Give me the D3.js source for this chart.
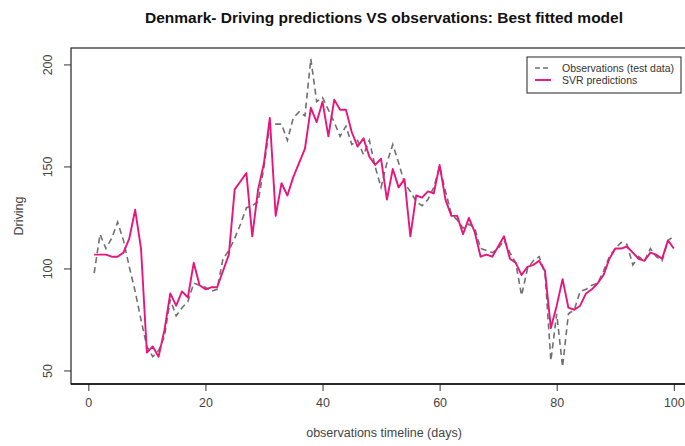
<!DOCTYPE html>
<html>
<head>
<meta charset="utf-8">
<script src="https://cdn.jsdelivr.net/npm/d3@7"></script>
<style>
  body { margin: 0; background: #fff; }
  svg { display: block; font-family: 'Liberation Sans', Arial, sans-serif; }
</style>
</head>
<body>
<div id="chart"></div>
<script>
// observations and SVR predictions, one value per day
const days = d3.range(1, 101);
const observations = [
  98, 117, 110, 115, 123, 114, 101, 89, 75, 62,
  57, 60, 67, 85, 77, 81, 84, 93, 92, 91,
  89, 90, 105, 109, 115, 122, 130, 131, 133, 150,
  171, 171, 171, 163, 174, 177, 175, 203, 182, 184,
  178, 172, 165, 170, 161, 163, 156, 163, 150, 140,
  152, 161, 152, 142, 138, 133, 131, 134, 140, 150,
  138, 127, 124, 120, 122, 120, 110, 109, 108, 110,
  114, 108, 103, 87, 100, 104, 106, 98, 55, 78,
  52, 78, 80, 89, 90, 92, 93, 99, 106, 110,
  113, 112, 102, 106, 104, 110, 106, 104, 114, 116
];
const svrPredictions = [
  107, 107, 107, 106, 106, 108, 115, 129, 110, 59,
  62, 57, 70, 88, 82, 89, 86, 103, 92, 90,
  91, 91, 99, 107, 139, 143, 147, 116, 139, 152,
  174, 126, 142, 136, 145, 152, 159, 179, 172, 182,
  165, 183, 178, 178, 167, 160, 164, 155, 151, 154,
  134, 149, 140, 144, 116, 136, 135, 138, 137, 151,
  134, 126, 126, 117, 125, 118, 106, 107, 106, 111,
  116, 105, 103, 97, 101, 102, 104, 99, 71, 82,
  95, 81, 80, 82, 88, 90, 93, 97, 105, 110,
  110, 111, 108, 105, 104, 108, 107, 105, 114, 110
];
const xTicks = [0, 20, 40, 60, 80, 100];
const yTicks = [50, 100, 150, 200];
const legendLabels = ['Observations (test data)', 'SVR predictions'];

const width = 685;
const height = 446;
const box = { left: 71, right: 697, top: 48, bottom: 384 };

const svg = d3.select('#chart').append('svg')
  .attr('width', width)
  .attr('height', height);

const x = d3.scaleLinear().domain([-2.96, 103.96]).range([box.left, box.right]);
const y = d3.scaleLinear().domain([43.6, 208.3]).range([box.bottom, box.top]);

// title
svg.append('text')
  .attr('x', 384)
  .attr('y', 23)
  .attr('text-anchor', 'middle')
  .attr('font-size', 15.5)
  .attr('font-weight', 'bold')
  .attr('fill', '#111')
  .text('Denmark- Driving predictions VS observations: Best fitted model');

// plot box
svg.append('rect')
  .attr('x', box.left)
  .attr('y', box.top)
  .attr('width', box.right - box.left)
  .attr('height', box.bottom - box.top)
  .attr('fill', 'none')
  .attr('stroke', '#222')
  .attr('stroke-width', 1.2);

// axes
const xAxis = svg.append('g')
  .attr('transform', `translate(0, ${box.bottom})`)
  .call(d3.axisBottom(x).tickValues(xTicks).tickSize(7).tickPadding(7));
const yAxis = svg.append('g')
  .attr('transform', `translate(${box.left}, 0)`)
  .call(d3.axisLeft(y).tickValues(yTicks).tickSize(7).tickPadding(6));

[xAxis, yAxis].forEach((ax) => {
  ax.select('.domain').remove();
  ax.selectAll('line').attr('stroke', '#333');
  ax.selectAll('text')
    .attr('font-size', 12.5)
    .attr('fill', '#444')
    .attr('font-family', "'Liberation Sans', Arial, sans-serif");
});
svg.append('line')
  .attr('x1', box.left).attr('x2', box.right)
  .attr('y1', box.bottom).attr('y2', box.bottom)
  .attr('stroke', '#111').attr('stroke-width', 1.6);

// rotate y tick labels like base R
yAxis.selectAll('text')
  .attr('text-anchor', 'middle')
  .attr('dy', 0)
  .attr('x', 0)
  .attr('transform', (d) => `translate(${-19}, ${y(d)}) rotate(-90)`)
  .attr('y', 0);
yAxis.selectAll('.tick').attr('transform', null);
yAxis.selectAll('.tick line')
  .attr('y1', (d) => y(d)).attr('y2', (d) => y(d));

// axis titles
svg.append('text')
  .attr('x', 384)
  .attr('y', 437)
  .attr('text-anchor', 'middle')
  .attr('font-size', 12.5)
  .attr('fill', '#444')
  .text('observations timeline (days)');

svg.append('text')
  .attr('transform', `translate(23, ${(box.top + box.bottom) / 2}) rotate(-90)`)
  .attr('text-anchor', 'middle')
  .attr('font-size', 12.5)
  .attr('fill', '#444')
  .text('Driving');

// lines
const lineObs = d3.line().x((d, i) => x(days[i])).y((d) => y(d));

svg.append('path')
  .datum(observations)
  .attr('d', lineObs)
  .attr('fill', 'none')
  .attr('stroke', '#707070')
  .attr('stroke-width', 1.6)
  .attr('stroke-dasharray', '6,4');

svg.append('path')
  .datum(svrPredictions)
  .attr('d', lineObs)
  .attr('fill', 'none')
  .attr('stroke', '#e8157d')
  .attr('stroke-width', 1.9)
  .attr('stroke-linejoin', 'round');

// legend
const legend = svg.append('g');
legend.append('rect')
  .attr('x', 527)
  .attr('y', 57)
  .attr('width', 154)
  .attr('height', 36)
  .attr('fill', '#fff')
  .attr('stroke', '#222')
  .attr('stroke-width', 1);

const legendStyles = [
  { stroke: '#707070', dash: '5,3', w: 1.4 },
  { stroke: '#e8157d', dash: null, w: 1.9 }
];
legendLabels.forEach((label, i) => {
  const ly = 68 + i * 12;
  legend.append('line')
    .attr('x1', 535).attr('x2', 551)
    .attr('y1', ly).attr('y2', ly)
    .attr('stroke', legendStyles[i].stroke)
    .attr('stroke-width', legendStyles[i].w)
    .attr('stroke-dasharray', legendStyles[i].dash);
  legend.append('text')
    .attr('x', 562)
    .attr('y', ly + 3.5)
    .attr('font-size', 10.5)
    .attr('fill', '#333')
    .text(label);
});
</script>
</body>
</html>
